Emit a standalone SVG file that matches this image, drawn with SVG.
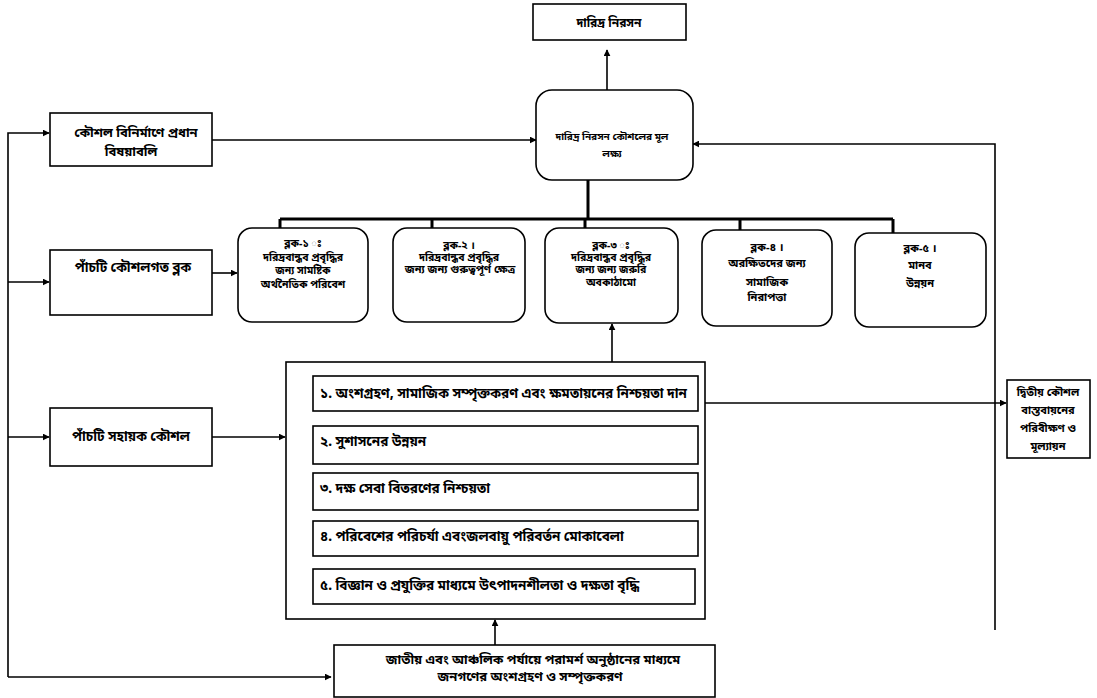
<svg xmlns="http://www.w3.org/2000/svg" width="1097" height="698" viewBox="0 0 1097 698">
<style>
.box{fill:#fff;stroke:#000;stroke-width:1.6}
.ln{fill:none;stroke:#000;stroke-width:1.6}
.bus{fill:none;stroke:#000;stroke-width:3}
text{font-family:"Noto Sans Bengali","Noto Sans","Noto Serif Bengali","Lohit Bengali","FreeSans",sans-serif;font-weight:bold;fill:#000}
.c{text-anchor:middle}
.s9{font-size:10px}.s10{font-size:10.5px}.s11{font-size:11px}.s12{font-size:12px}.s13{font-size:13.5px}.s135{font-size:13.4px}.sb{font-size:13px}
</style>
<defs>
<marker id="ah" viewBox="0 0 10 10" refX="9" refY="5" markerWidth="7" markerHeight="7" markerUnits="userSpaceOnUse" orient="auto"><path d="M0,0 L10,5 L0,10 z" fill="#000"/></marker>
</defs>
<g id="connectors">
<path class="ln" d="M607,90 V50" marker-end="url(#ah)"/>
<path class="ln" d="M212,140 H536" marker-end="url(#ah)"/>
<path class="ln" d="M995,630 V144 H693" marker-end="url(#ah)"/>
<path class="ln" d="M8,677 V133 H49" marker-end="url(#ah)"/>
<path class="ln" d="M8,282 H49" marker-end="url(#ah)"/>
<path class="ln" d="M8,437 H49" marker-end="url(#ah)"/>
<path class="ln" d="M8,677 H331" marker-end="url(#ah)"/>
<path class="ln" d="M212,273 H237" marker-end="url(#ah)"/>
<path class="ln" d="M212,437 H285" marker-end="url(#ah)"/>
<path class="ln" d="M705,403 H1006" marker-end="url(#ah)"/>
<path class="ln" d="M612,362 V324" marker-end="url(#ah)"/>
<path class="ln" d="M495,645 V620" marker-end="url(#ah)"/>
<path class="bus" d="M588,180 V219 M280,219 H893 M280,219 V228 M432,219 V228 M585,219 V228 M740,219 V230 M893,219 V233"/>
</g>
<g id="n-top"><rect class="box" x="533" y="4" width="153" height="36"/><text class="c s12" x="609" y="27">দারিদ্র নিরসন</text></g>
<g id="n-center"><rect class="box" x="536" y="90" width="157" height="90" rx="16"/><text class="c s9" x="612" y="140">দারিদ্র নিরসন কৌশলের মূল</text><text class="c s9" x="612" y="157">লক্ষ্য</text></g>
<g id="n-left1"><rect class="box" x="50" y="113" width="162" height="53"/><text class="c sb" x="136" y="137">কৌশল বিনির্মাণে প্রধান</text><text class="c sb" x="131" y="156">বিষয়াবলি</text></g>
<g id="n-left2"><rect class="box" x="50" y="250" width="162" height="65"/><text class="c s135" x="133" y="272">পাঁচটি কৌশলগত ব্লক</text></g>
<g id="n-left3"><rect class="box" x="50" y="408" width="162" height="58"/><text class="c s135" x="131" y="441">পাঁচটি সহায়ক কৌশল</text></g>
<g id="n-block1"><rect class="box" x="238" y="228" width="130" height="94" rx="14"/><text class="c s10" x="303" y="247">ব্লক-১ ঃ</text><text class="c s10" x="303" y="261">দরিদ্রবান্ধব প্রবৃদ্ধির</text><text class="c s10" x="303" y="274">জন্য সামষ্টিক</text><text class="c s10" x="303" y="288">অর্থনৈতিক পরিবেশ</text></g>
<g id="n-block2"><rect class="box" x="393" y="228" width="132" height="94" rx="14"/><text class="c s10" x="459" y="249">ব্লক-২ ।</text><text class="c s10" x="459" y="261">দরিদ্রবান্ধব প্রবৃদ্ধির</text><text class="c s11" x="460" y="273">জন্য জন্য গুরুত্বপূর্ণ ক্ষেত্র</text></g>
<g id="n-block3"><rect class="box" x="545" y="228" width="133" height="95" rx="14"/><text class="c s10" x="611" y="249">ব্লক-৩ ঃ</text><text class="c s10" x="611" y="261">দরিদ্রবান্ধব প্রবৃদ্ধির</text><text class="c s10" x="611" y="273">জন্য জন্য জরুরি</text><text class="c s10" x="611" y="286">অবকাঠামো</text></g>
<g id="n-block4"><rect class="box" x="702" y="230" width="130" height="96" rx="14"/><text class="c s11" x="767" y="251">ব্লক-৪ ।</text><text class="c s11" x="767" y="267">অরক্ষিতদের জন্য</text><text class="c s11" x="767" y="286">সামাজিক</text><text class="c s11" x="767" y="301">নিরাপত্তা</text></g>
<g id="n-block5"><rect class="box" x="855" y="233" width="131" height="94" rx="14"/><text class="c s11" x="920" y="252">ব্লক-৫ ।</text><text class="c s11" x="920" y="269">মানব</text><text class="c s11" x="920" y="287">উন্নয়ন</text></g>
<g id="n-support"><rect class="box" x="286" y="362" width="419" height="257"/>
<rect class="box" x="313" y="376" width="385" height="35"/><text class="s13" x="320" y="398">১. অংশগ্রহণ, সামাজিক সম্পৃক্তকরণ এবং ক্ষমতায়নের নিশ্চয়তা দান</text>
<rect class="box" x="313" y="426" width="385" height="38"/><text class="s13" x="320" y="446">২. সুশাসনের উন্নয়ন</text>
<rect class="box" x="313" y="473" width="385" height="37"/><text class="s13" x="320" y="493">৩. দক্ষ সেবা বিতরণের নিশ্চয়তা</text>
<rect class="box" x="313" y="521" width="385" height="35"/><text class="s13" x="320" y="541">৪. পরিবেশের পরিচর্যা এবংজলবায়ু পরিবর্তন মোকাবেলা</text>
<rect class="box" x="313" y="569" width="382" height="35"/><text class="s13" x="320" y="590">৫. বিজ্ঞান ও প্রযুক্তির মাধ্যমে উৎপাদনশীলতা ও দক্ষতা বৃদ্ধি</text>
</g>
<g id="n-monitor"><rect class="box" x="1007" y="380" width="83" height="78"/><text class="c s11" x="1048" y="396">দ্বিতীয় কৌশল</text><text class="c s11" x="1048" y="414">বাস্তবায়নের</text><text class="c s11" x="1048" y="432">পরিবীক্ষণ ও</text><text class="c s11" x="1048" y="450">মূল্যায়ন</text></g>
<g id="n-bottom"><rect class="box" x="334" y="645" width="381" height="52"/><text class="c sb" x="533" y="664">জাতীয় এবং আঞ্চলিক পর্যায়ে পরামর্শ অনুষ্ঠানের মাধ্যমে</text><text class="c sb" x="530" y="681">জনগণের অংশগ্রহণ ও সম্পৃক্তকরণ</text></g>
</svg>
